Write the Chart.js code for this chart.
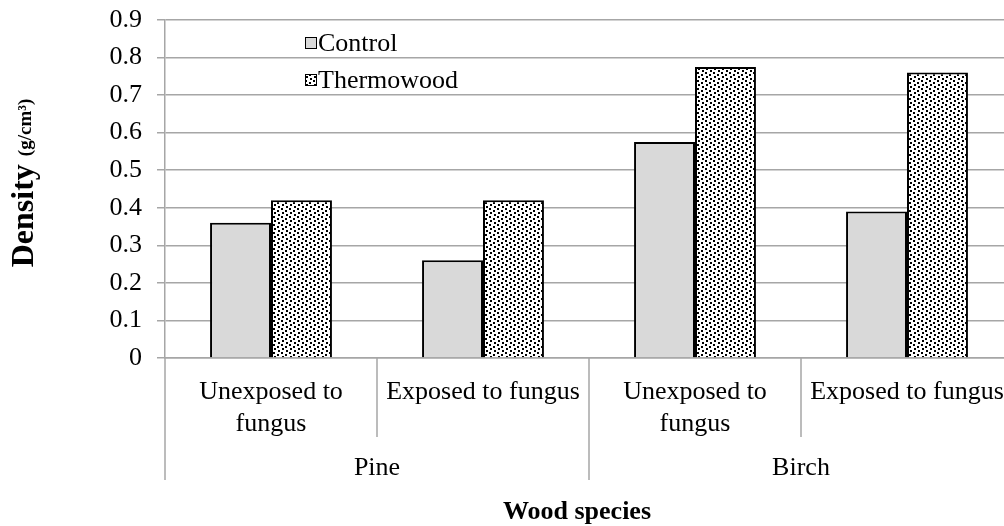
<!DOCTYPE html>
<html>
<head>
<meta charset="utf-8">
<script src="https://cdn.jsdelivr.net/npm/chart.js@4.4.1/dist/chart.umd.min.js"></script>
<style>
  html, body { margin: 0; padding: 0; background: #fff; }
  #wrap { width: 1004px; height: 526px; overflow: hidden; }
</style>
</head>
<body>
<div id="wrap"><canvas id="chart" width="1014" height="526"></canvas></div>
<script>
const categories = [['Unexposed to', 'fungus'], ['Exposed to fungus'], ['Unexposed to', 'fungus'], ['Exposed to fungus']];
const groups = ['Pine', 'Birch'];
const seriesNames = ['Control', 'Thermowood'];
const controlValues = [0.36, 0.26, 0.575, 0.39];
const thermoValues = [0.42, 0.42, 0.775, 0.76];
const yTicks = [0, 0.1, 0.2, 0.3, 0.4, 0.5, 0.6, 0.7, 0.8, 0.9];

const serif = "'Liberation Serif', 'Times New Roman', serif";
const gridGray = '#a6a6a6';

// dotted fill like the excel pattern
function dotPattern() {
  const c = document.createElement('canvas');
  c.width = 8; c.height = 8;
  const g = c.getContext('2d');
  g.fillStyle = '#fff';
  g.fillRect(0, 0, 8, 8);
  g.fillStyle = '#000';
  [[1, 0], [5, 2], [2, 4], [6, 6]].forEach(([x, y]) => g.fillRect(x, y, 2, 2));
  return g.createPattern(c, 'repeat');
}
const thermoFill = dotPattern();

const extras = {
  id: 'extras',
  afterDraw(chart) {
    const ctx = chart.ctx;
    const x = chart.scales.x;
    const base = chart.chartArea.bottom;
    ctx.save();

    // category labels
    ctx.fillStyle = '#000';
    ctx.font = '26px ' + serif;
    ctx.textAlign = 'center';
    ctx.textBaseline = 'middle';
    categories.forEach((lines, i) => {
      const cx = x.getPixelForValue(i);
      lines.forEach((t, j) => ctx.fillText(t, cx, base + 34 + j * 32));
    });

    // dividers
    ctx.strokeStyle = gridGray;
    ctx.lineWidth = 1.5;
    const per = categories.length / groups.length;
    for (let i = 0; i <= categories.length; i++) {
      let px;
      if (i === 0) px = x.left;
      else if (i === categories.length) px = x.right;
      else px = (x.getPixelForValue(i - 1) + x.getPixelForValue(i)) / 2;
      const len = (i % per === 0) ? 122 : 79;
      ctx.beginPath();
      ctx.moveTo(px, base);
      ctx.lineTo(px, base + len);
      ctx.stroke();
    }

    // group labels
    groups.forEach((g, k) => {
      const a = x.getPixelForValue(k * per);
      const b = x.getPixelForValue(k * per + per - 1);
      ctx.fillText(g, (a + b) / 2, base + 110);
    });

    // x title
    ctx.font = 'bold 26px ' + serif;
    ctx.fillText('Wood species', 577, base + 154);

    // y title, mixed sizes
    ctx.translate(25, 183);
    ctx.rotate(-Math.PI / 2);
    ctx.textAlign = 'left';
    const big = 'bold 32px ' + serif, small = 'bold 19px ' + serif;
    ctx.font = big;
    const w1 = ctx.measureText('Density ').width;
    ctx.font = small;
    const w2 = ctx.measureText('(g/cm³)').width;
    let sx = -(w1 + w2) / 2;
    ctx.font = big;
    ctx.fillText('Density ', sx, 0);
    ctx.font = small;
    ctx.fillText('(g/cm³)', sx + w1, 1);
    ctx.restore();

    // legend
    ctx.save();
    ctx.font = '26px ' + serif;
    ctx.textBaseline = 'middle';
    chart.data.datasets.forEach((ds, i) => {
      const ly = 43 + i * 37;
      ctx.fillStyle = ds.backgroundColor;
      ctx.fillRect(305, ly - 6, 12, 12);
      ctx.strokeStyle = '#000';
      ctx.lineWidth = 1;
      ctx.strokeRect(305.5, ly - 5.5, 11, 11);
      ctx.fillStyle = '#000';
      ctx.fillText(ds.label, 318, ly + 1);
    });
    ctx.restore();
  }
};

new Chart(document.getElementById('chart'), {
  type: 'bar',
  data: {
    labels: categories,
    datasets: [
      { label: seriesNames[0], data: controlValues, backgroundColor: '#d9d9d9', borderColor: '#000', borderWidth: 2 },
      { label: seriesNames[1], data: thermoValues, backgroundColor: thermoFill, borderColor: '#000', borderWidth: 2 }
    ]
  },
  options: {
    responsive: false,
    animation: false,
    events: [],
    layout: { padding: { left: 105, top: 20, right: 1, bottom: 0 } },
    datasets: { bar: { categoryPercentage: 0.575, barPercentage: 1 } },
    plugins: { legend: { display: false }, tooltip: { enabled: false } },
    scales: {
      x: {
        ticks: { display: false },
        grid: { display: false },
        border: { display: true, color: gridGray, width: 1.5 },
        afterFit: s => { s.height = 168; }
      },
      y: {
        min: 0,
        max: 0.9,
        afterBuildTicks: s => { s.ticks = yTicks.map(v => ({ value: v })); },
        ticks: {
          color: '#000',
          font: { family: serif, size: 26 },
          padding: 15,
          callback: v => String(+v.toFixed(1))
        },
        grid: { color: gridGray, lineWidth: 1.5, tickLength: 8, tickColor: gridGray },
        border: { color: gridGray, width: 1.5 },
        afterFit: s => { s.width = 60; s.paddingTop = 0; s.paddingBottom = 0; }
      }
    }
  },
  plugins: [extras]
});
</script>
</body>
</html>
